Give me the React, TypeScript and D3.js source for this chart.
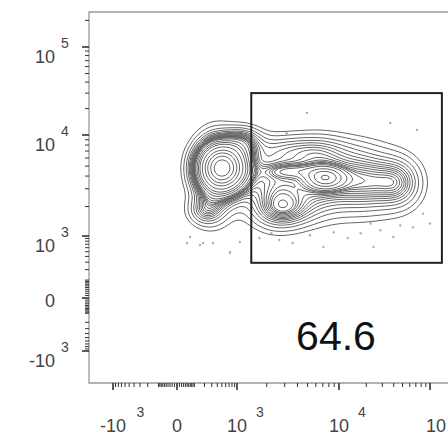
import { useMemo } from "react";
import * as d3 from "d3";

const W = 448;
const H = 441;

// axis ticks, in channel units
const majorTicks = [-1000, 0, 1000, 10000, 100000];
const tickBase = ["-10", "0", "10", "10", "10"];
const tickExp = ["3", "", "3", "4", "5"];
const minorTicks = [
  -900, -800, -700, -600, -500, -400, -300, -200, -100,
  -90, -80, -70, -60, -50, -40, -30, -20, -10,
  10, 20, 30, 40, 50, 60, 70, 80, 90,
  100, 200, 300, 400, 500, 600, 700, 800, 900,
  2000, 3000, 4000, 5000, 6000, 7000, 8000, 9000,
  20000, 30000, 40000, 50000, 60000, 70000, 80000, 90000,
  200000,
];

// populations making up the density (centre in channel units, spread in decades, share of events)
const popX = [528, 356, 206, 1200, 2380, 6630, 19600, 47200, 4200, 2990, 7430, 3350];
const popY = [4820, 4020, 1810, 8900, 3200, 3750, 3580, 3430, 7430, 1810, 3840, 4500];
const popSdX = [0.16, 0.15, 0.12, 0.12, 0.2, 0.22, 0.22, 0.16, 0.35, 0.2, 0.12, 0.2];
const popSdY = [0.16, 0.3, 0.1, 0.1, 0.25, 0.24, 0.22, 0.18, 0.1, 0.12, 0.07, 0.05];
const popShare = [0.3, 0.09, 0.02, 0.02, 0.12, 0.14, 0.13, 0.06, 0.04, 0.04, 0.02, 0.01];

// equal probability contour levels
const contourLevels = [
  0.04, 0.08, 0.12, 0.16, 0.2, 0.24, 0.28, 0.32, 0.36, 0.4, 0.44, 0.48,
  0.52, 0.56, 0.6, 0.64, 0.68, 0.72, 0.76, 0.8, 0.84, 0.88, 0.92, 0.95,
];

// outlier events
const outlierX = [
  49, 151, 322, 730, 1070, 1690, 2220, 2660, 3580, 5280, 7100, 8920, 12500,
  17300, 24000, 28600, 39600, 47200, 65000, 84000, 100000, 4930, 3130, 36700,
  72000, 22300, 68, 183, 730,
];
const outlierY = [
  738, 676, 738, 492, 771, 916, 1070, 842, 738, 1020, 618, 1095, 916,
  1070, 618, 1150, 957, 1285, 1230, 1690, 1345, 17800, 10500, 13700,
  11400, 1345, 957, 738, 470,
];

// gate
const gateX = [1400, 135000];
const gateY = [290, 30000];
const gateLabel = "64.6";

const tf = (v: number) => Math.sign(v) * Math.log10(1 + Math.abs(v) / 100);

const left = 89;
const top = 12;
const bottom = 383;
const cell = 2;

export default function App() {
  const xs = d3.scaleLinear().domain(majorTicks.map(tf)).range([113, 177, 237, 339, 430]);
  const ys = d3.scaleLinear().domain(majorTicks.map(tf)).range([351, 298, 236, 135, 47]);
  const x = (v: number) => xs(tf(v));
  const y = (v: number) => ys(tf(v));

  const contours = useMemo(() => {
    const n = Math.ceil((W - left) / cell);
    const m = Math.ceil((bottom - top) / cell);
    const decX = x(10000) - x(1000);
    const decY = y(1000) - y(10000);
    const comps = popX.map((_, i) => ({
      cx: x(popX[i]),
      cy: y(popY[i]),
      sx: popSdX[i] * decX,
      sy: popSdY[i] * decY,
      w: popShare[i],
    }));
    const values = new Float64Array(n * m);
    for (let j = 0; j < m; j++) {
      const py = top + (j + 0.5) * cell;
      for (let i = 0; i < n; i++) {
        const px = left + (i + 0.5) * cell;
        let d = 0;
        for (const c of comps) {
          const dx = (px - c.cx) / c.sx;
          const dy = (py - c.cy) / c.sy;
          d += (c.w / (2 * Math.PI * c.sx * c.sy)) * Math.exp(-0.5 * (dx * dx + dy * dy));
        }
        values[j * n + i] = d;
      }
    }
    const sorted = Array.from(values).sort((a, b) => b - a);
    const total = d3.sum(sorted);
    const thresholds: number[] = [];
    let acc = 0;
    let k = 0;
    for (const v of sorted) {
      acc += v;
      while (k < contourLevels.length && acc >= contourLevels[k] * total) {
        thresholds.push(v);
        k++;
      }
      if (k >= contourLevels.length) break;
    }
    const gen = d3.contours().size([n, m]).thresholds(thresholds.sort((a, b) => a - b));
    const path = d3.geoPath(d3.geoIdentity().scale(cell).translate([left, top]) as any);
    return gen(Array.from(values)).map((c) => path(c as any) as string);
  }, []);

  const font = "'Liberation Sans', Arial, Helvetica, sans-serif";

  return (
    <svg
      width={W}
      height={H}
      style={{ position: "absolute", left: 0, top: 0, background: "#fff" }}
    >
      <defs>
        <clipPath id="plot">
          <rect x={left} y={top} width={W - left} height={bottom - top} />
        </clipPath>
        <filter id="soft" x="-5%" y="-5%" width="110%" height="110%">
          <feGaussianBlur stdDeviation={0.45} />
        </filter>
      </defs>

      <g clipPath="url(#plot)">
        <g filter="url(#soft)">
          {outlierX.map((v, i) => (
            <circle key={i} cx={x(v)} cy={y(outlierY[i])} r={1.2} fill="#b0b0b0" />
          ))}
          {contours.map((d, i) => (
            <path key={i} d={d} fill="none" stroke="#666" strokeWidth={1} />
          ))}
        </g>
        <rect
          x={x(gateX[0])}
          y={y(gateY[1])}
          width={x(gateX[1]) - x(gateX[0])}
          height={y(gateY[0]) - y(gateY[1])}
          fill="none"
          stroke="#222"
          strokeWidth={2}
        />
      </g>

      <text x={336} y={350} textAnchor="middle" fontFamily={font} fontSize={41} fill="#111">
        {gateLabel}
      </text>

      {/* frame */}
      <path
        d={`M${W + 5},${top}H${left}V${bottom}H${W + 5}`}
        fill="none"
        stroke="#999"
        strokeWidth={1.3}
      />

      {/* y axis */}
      <g stroke="#333">
        {majorTicks.map((t) => (
          <line key={t} x1={left - 7} x2={left} y1={y(t)} y2={y(t)} strokeWidth={1.6} />
        ))}
        {minorTicks
          .filter((t) => y(t) > top)
          .map((t) => (
            <line key={t} x1={left - 4} x2={left} y1={y(t)} y2={y(t)} strokeWidth={1} />
          ))}
      </g>
      <g fontFamily={font} fill="#444">
        {majorTicks.map((t, i) => (
          <g key={t}>
            <text
              x={55}
              y={y(t) + (tickExp[i] ? 16 : 9)}
              textAnchor="end"
              fontSize={18}
            >
              {tickBase[i]}
            </text>
            {tickExp[i] && (
              <text x={61} y={y(t) + 1} fontSize={14}>
                {tickExp[i]}
              </text>
            )}
          </g>
        ))}
      </g>

      {/* x axis */}
      <g stroke="#333">
        {majorTicks.map((t) => (
          <line key={t} x1={x(t)} x2={x(t)} y1={bottom} y2={bottom + 7} strokeWidth={1.6} />
        ))}
        {minorTicks
          .filter((t) => x(t) < W)
          .map((t) => (
            <line key={t} x1={x(t)} x2={x(t)} y1={bottom} y2={bottom + 4} strokeWidth={1} />
          ))}
      </g>
      <g fontFamily={font} fill="#444">
        {majorTicks.map((t, i) => {
          const half = tickBase[i].length * 5.5 + (tickBase[i].startsWith("-") ? -1 : 0);
          const supX = x(t) + half + 8;
          return (
            <g key={t}>
              <text x={x(t) + (supX > W ? 6 : 0)} y={432} textAnchor="middle" fontSize={18}>
                {tickBase[i]}
              </text>
              {tickExp[i] && supX < W - 8 && (
                <text x={supX} y={417} fontSize={14}>
                  {tickExp[i]}
                </text>
              )}
            </g>
          );
        })}
      </g>
    </svg>
  );
}
